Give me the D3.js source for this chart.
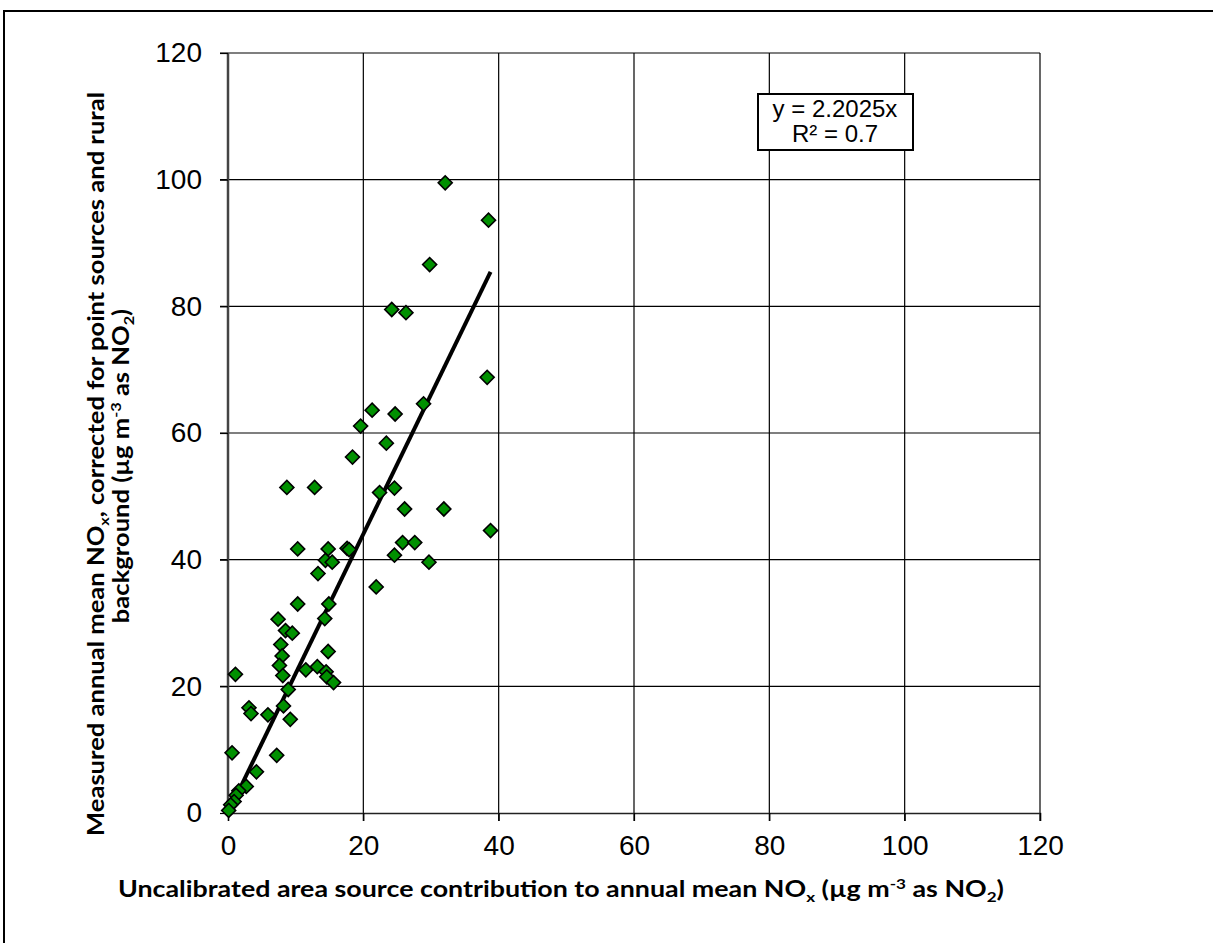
<!DOCTYPE html>
<html>
<head>
<meta charset="utf-8">
<script src="https://cdn.jsdelivr.net/npm/d3@7"></script>
<style>
  body { margin: 0; background: #fff; }
  svg { display: block; }
</style>
</head>
<body>
<svg id="chart" width="1213" height="943"></svg>
<script>
// values (uncalibrated area source vs measured)
const areaSource = [32.1, 38.5, 29.8, 24.2, 26.3, 38.3, 21.3, 24.7, 28.9, 19.6,
  23.4, 18.4, 8.7, 12.8, 22.4, 24.6, 26.1, 31.9, 38.8, 10.3,
  14.8, 17.6, 17.9, 25.8, 27.6, 14.4, 15.4, 24.6, 29.7, 13.3,
  21.9, 10.3, 14.9, 14.3, 7.4, 8.5, 9.5, 7.8, 8.0, 7.6,
  8.1, 14.8, 11.5, 13.2, 14.5, 14.6, 15.6, 1.1, 8.9, 8.2,
  3.1, 3.4, 5.9, 9.2, 0.6, 7.2, 4.2, 2.7, 1.6, 1.2,
  0.9, 0.4, 0.1]
const measured = [99.5, 93.6, 86.6, 79.5, 79.0, 68.8, 63.6, 63.0, 64.6, 61.1,
  58.4, 56.2, 51.4, 51.4, 50.6, 51.3, 48.0, 48.0, 44.6, 41.7,
  41.7, 41.8, 41.6, 42.7, 42.7, 39.9, 39.6, 40.7, 39.6, 37.8,
  35.7, 33.0, 33.0, 30.7, 30.6, 28.8, 28.4, 26.6, 24.8, 23.3,
  21.7, 25.5, 22.6, 23.1, 22.3, 21.5, 20.6, 21.9, 19.5, 16.9,
  16.6, 15.7, 15.5, 14.8, 9.5, 9.1, 6.5, 4.2, 3.5, 2.8,
  1.8, 1.3, 0.4]
const slope = 2.2025
const rSquared = 0.7
const ticks = [0, 20, 40, 60, 80, 100, 120]

const svg = d3.select('#chart')
const margin = {top: 53, left: 228}
const width = 812, height = 760

// outer frame of the figure (runs off right and bottom)
svg.append('rect')
  .attr('x', 4).attr('y', 11)
  .attr('width', 1300).attr('height', 1000)
  .attr('fill', 'none').attr('stroke', '#000').attr('stroke-width', 2)

const g = svg.append('g').attr('transform', `translate(${margin.left},${margin.top})`)

const x = d3.scaleLinear().domain([0, 120]).range([0, width])
const y = d3.scaleLinear().domain([0, 120]).range([height, 0])

// gridlines
g.append('g')
  .selectAll('line.vgrid')
  .data(ticks.slice(1))
  .join('line')
  .attr('x1', d => x(d)).attr('x2', d => x(d))
  .attr('y1', 0).attr('y2', height + 8)
  .attr('stroke', '#000').attr('stroke-width', 1.2)
g.append('g')
  .selectAll('line.hgrid')
  .data(ticks.slice(1))
  .join('line')
  .attr('x1', -8).attr('x2', width)
  .attr('y1', d => y(d)).attr('y2', d => y(d))
  .attr('stroke', '#000').attr('stroke-width', 1.2)

// axes
const xAxis = g.append('g')
  .attr('transform', `translate(0,${height})`)
  .call(d3.axisBottom(x).tickValues(ticks).tickSize(8).tickPadding(10))
const yAxis = g.append('g')
  .call(d3.axisLeft(y).tickValues(ticks).tickSize(8).tickPadding(18))
xAxis.select('.domain').attr('stroke', '#222').attr('stroke-width', 1.5)
yAxis.select('.domain').attr('stroke', '#444').attr('stroke-width', 2.5)
  .attr('d', `M0,${height}V0`)
xAxis.selectAll('.tick line').attr('stroke', '#000').attr('stroke-width', 1.2)
yAxis.selectAll('.tick line').attr('stroke', '#000').attr('stroke-width', 1.2)
svg.selectAll('.tick text')
  .attr('font-family', '"Liberation Sans", Arial, sans-serif')
  .attr('font-size', 28)
  .attr('fill', '#000')
xAxis.selectAll('.tick text').attr('dy', '0.85em')

// trendline through origin
const maxX = d3.max(areaSource)
g.append('line')
  .attr('x1', x(0)).attr('y1', y(0))
  .attr('x2', x(maxX)).attr('y2', y(slope * maxX))
  .attr('stroke', '#000').attr('stroke-width', 4)

// points as diamonds
const pts = areaSource.map((v, i) => ({x: v, y: measured[i]}))
g.append('g')
  .selectAll('path')
  .data(pts)
  .join('path')
  .attr('d', d3.symbol().type(d3.symbolSquare).size(98))
  .attr('transform', d => `translate(${x(d.x)},${y(d.y)}) rotate(45)`)
  .attr('fill', '#009000')
  .attr('stroke', '#000')
  .attr('stroke-width', 1.6)

// equation box
const box = svg.append('g')
box.append('rect')
  .attr('x', 758).attr('y', 94).attr('width', 155).attr('height', 56)
  .attr('fill', '#fff').attr('stroke', '#000').attr('stroke-width', 2)
box.append('text')
  .attr('x', 835).attr('y', 117)
  .attr('text-anchor', 'middle')
  .attr('font-family', '"Liberation Sans", Arial, sans-serif')
  .attr('font-size', 24)
  .text(`y = ${slope}x`)
box.append('text')
  .attr('x', 835).attr('y', 142)
  .attr('text-anchor', 'middle')
  .attr('font-family', '"Liberation Sans", Arial, sans-serif')
  .attr('font-size', 24)
  .text(`R² = ${rSquared}`)

const titleFont = 'Lato, "Open Sans", sans-serif'

// x axis title
const xt = svg.append('text')
  .attr('x', 561).attr('y', 897)
  .attr('text-anchor', 'middle')
  .attr('font-family', titleFont)
  .attr('font-weight', 'bold')
  .attr('font-size', 22)
  .attr('textLength', 886)
  .attr('lengthAdjust', 'spacingAndGlyphs')
xt.append('tspan').text('Uncalibrated area source contribution to annual mean NO')
xt.append('tspan').attr('font-size', 14).attr('dy', 5).text('x')
xt.append('tspan').attr('dy', -5).text(' (µg m')
xt.append('tspan').attr('font-size', 14).attr('dy', -8).text('-3')
xt.append('tspan').attr('dy', 8).text(' as NO')
xt.append('tspan').attr('font-size', 14).attr('dy', 5).text('2')
xt.append('tspan').attr('dy', -5).text(')')

// y axis title, two lines rotated
const yt1 = svg.append('text')
  .attr('transform', 'translate(104,464) rotate(-90)')
  .attr('text-anchor', 'middle')
  .attr('font-family', titleFont)
  .attr('font-weight', 'bold')
  .attr('font-size', 22)
yt1.append('tspan').text('Measured annual mean NO')
yt1.append('tspan').attr('font-size', 14).attr('dy', 5).text('x')
yt1.append('tspan').attr('dy', -5).text(', corrected for point sources and rural')

const yt2 = svg.append('text')
  .attr('transform', 'translate(129,466) rotate(-90)')
  .attr('text-anchor', 'middle')
  .attr('font-family', titleFont)
  .attr('font-weight', 'bold')
  .attr('font-size', 22)
yt2.append('tspan').text('background (µg m')
yt2.append('tspan').attr('font-size', 14).attr('dy', -8).text('-3')
yt2.append('tspan').attr('dy', 8).text(' as NO')
yt2.append('tspan').attr('font-size', 14).attr('dy', 5).text('2')
yt2.append('tspan').attr('dy', -5).text(')')

// squeeze both lines by the same factor so line 1 fits its span
const squeeze = 744 / yt1.node().getComputedTextLength()
const len2 = yt2.node().getComputedTextLength() * squeeze
yt1.attr('textLength', 744).attr('lengthAdjust', 'spacingAndGlyphs')
yt2.attr('textLength', len2).attr('lengthAdjust', 'spacingAndGlyphs')
</script>
</body>
</html>
